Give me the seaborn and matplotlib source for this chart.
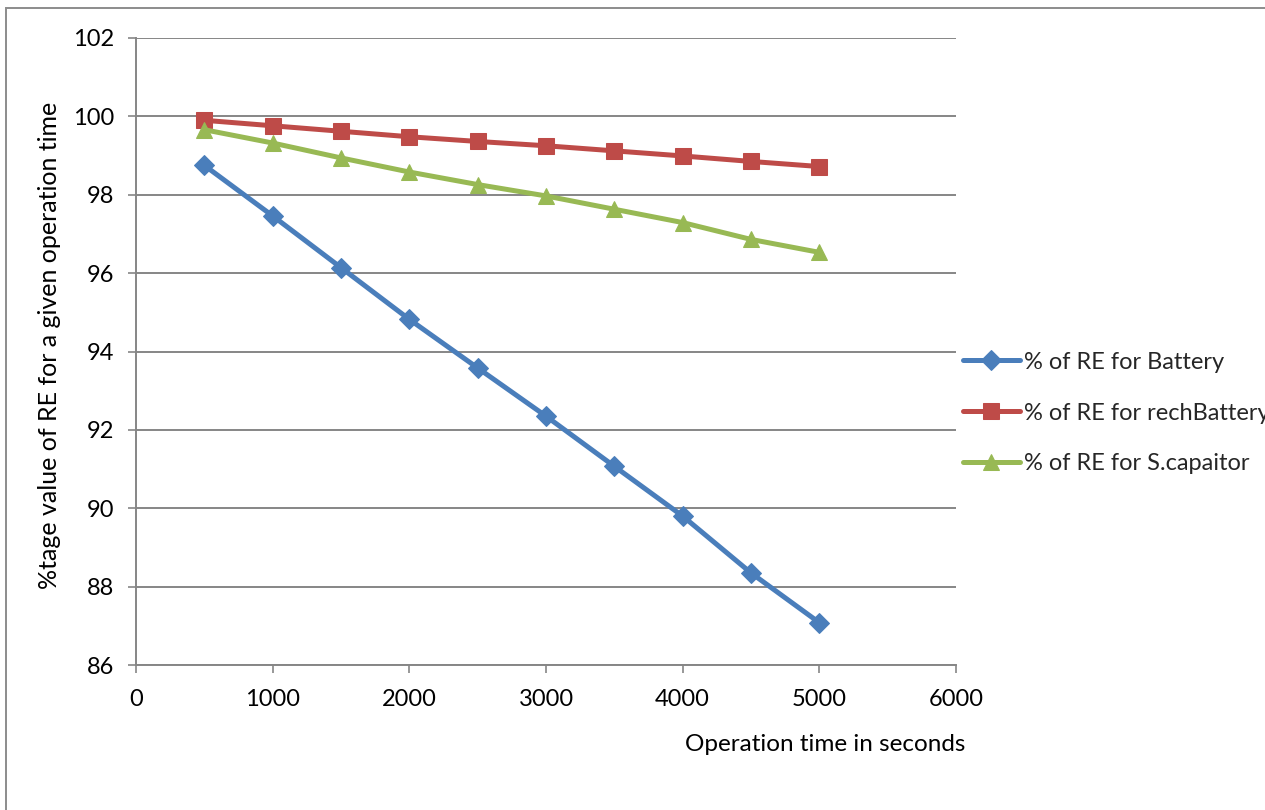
import matplotlib
matplotlib.use("Agg")
import matplotlib.pyplot as plt
import seaborn as sns
import pandas as pd
from matplotlib.patches import Rectangle

time_s = [500, 1000, 1500, 2000, 2500, 3000, 3500, 4000, 4500, 5000]
re_battery = [98.75, 97.46, 96.14, 94.82, 93.58, 92.35, 91.07, 89.80, 88.35, 87.08]
re_rech_battery = [99.90, 99.76, 99.62, 99.48, 99.36, 99.25, 99.12, 98.99, 98.85, 98.72]
re_scapacitor = [99.66, 99.32, 98.94, 98.58, 98.26, 97.97, 97.63, 97.29, 96.86, 96.53]

series_names = ["% of RE for Battery", "% of RE for rechBattery", "% of RE for S.capaitor"]
x_ticks = [0, 1000, 2000, 3000, 4000, 5000, 6000]
y_ticks = [86, 88, 90, 92, 94, 96, 98, 100, 102]

sns.set_theme(style="white")
plt.rcParams["font.family"] = ["Lato", "DejaVu Sans"]

fig = plt.figure(figsize=(12.65, 8.10), dpi=100)
ax = fig.add_axes([136 / 1265, 1 - 665 / 810, 820 / 1265, 627 / 810])

colors = ["#4A7EBB", "#BE4B48", "#98B954"]
markers = ["D", "s", "^"]
msizes = [10, 11, 11.5]
for vals, name, c, m, ms in zip([re_battery, re_rech_battery, re_scapacitor],
                                series_names, colors, markers, msizes):
    df = pd.DataFrame({"t": time_s, "v": vals})
    sns.lineplot(data=df, x="t", y="v", ax=ax, color=c, marker=m, markersize=ms,
                 markeredgecolor=c, linewidth=3.6, label=name, clip_on=False)

ax.set_xlim(0, 6000)
ax.set_ylim(86, 102)
ax.set_xticks(x_ticks)
ax.set_yticks(y_ticks)
ax.set_xticklabels([str(v) for v in x_ticks])
ax.set_yticklabels([str(v) for v in y_ticks])

grid_c = "#868686"
ax.yaxis.grid(True, color=grid_c, linewidth=1.4)
ax.xaxis.grid(False)
ax.set_axisbelow(True)
for s in ["top", "right"]:
    ax.spines[s].set_visible(False)
for s in ["left", "bottom"]:
    ax.spines[s].set_color(grid_c)
    ax.spines[s].set_linewidth(1.4)

ax.tick_params(axis="both", which="major", direction="out", length=6, width=1.2,
               color=grid_c, labelsize=17, labelcolor="black")
ax.tick_params(axis="y", pad=10, left=True)
ax.tick_params(axis="x", pad=11, bottom=True)

ax.set_xlabel("Operation time in seconds", fontsize=17.5, color="black")
ax.xaxis.set_label_coords(0.841, -0.11)
ax.set_ylabel("%tage value of RE for a given operation time", fontsize=18, color="black")
ax.yaxis.set_label_coords(-0.092, 0.51)

leg = ax.legend(loc="center left", bbox_to_anchor=(963 / 1265, 1 - 413 / 810),
                bbox_transform=fig.transFigure, frameon=False, fontsize=17,
                handlelength=2.4, handletextpad=0.2, labelspacing=1.27,
                borderaxespad=0, borderpad=0)

fig.patches.append(Rectangle((6 / 1265, -0.1), 1.2, 1 - 8 / 810 + 0.1,
                             transform=fig.transFigure, fill=False,
                             edgecolor="#8c8c8c", linewidth=1.4))

fig.savefig("out.png", dpi=100)
